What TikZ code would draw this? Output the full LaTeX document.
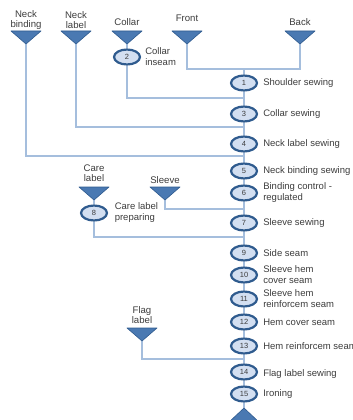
\documentclass[tikz,border=0pt]{standalone}
\usepackage{fontspec}
\setmainfont{Liberation Sans}
\usetikzlibrary{backgrounds,shapes.geometric}
\definecolor{lineblue}{HTML}{A5BEDD}
\definecolor{triblue}{HTML}{4A79B2}
\definecolor{tridark}{HTML}{2E5A8E}
\definecolor{ellfill}{HTML}{D3DFF1}
\definecolor{elldraw}{HTML}{2F5B8E}
\definecolor{txt}{HTML}{3C3C3C}
\newcommand\intri[3]{\path[tri] (#2-15,#3) -- (#2+15,#3) -- (#2,#3+13) -- cycle; \coordinate (#1) at (#2,#3+13);}
\begin{document}
\begin{tikzpicture}[x=1pt,y=-1pt,
  op/.style={ellipse, draw=elldraw, line width=2.2pt, fill=ellfill, minimum width=26pt, minimum height=15pt, inner sep=0pt, font=\fontsize{7.5}{7.5}\selectfont, text=txt},
  lab/.style={anchor=west, inner sep=0pt, align=left, font=\fontsize{9.5}{11}\selectfont, text=txt},
  tlab/.style={anchor=south, inner sep=0pt, align=center, font=\fontsize{9.6}{10}\selectfont, text=txt},
  conn/.style={draw=lineblue, line width=1.3pt},
  tri/.style={fill=triblue, draw=tridark, line width=0.6pt, line join=round}]
\useasboundingbox (0,0) rectangle (353,420);
% inputs
\intri{nb}{26}{31}
\intri{nl}{76}{31}
\intri{co}{127}{31}
\intri{fr}{187}{31}
\intri{bk}{300}{31}
\intri{cl}{94}{187}
\intri{sl}{165}{187}
\intri{fl}{142}{328}
\path[tri] (228,423) -- (260,423) -- (244,408) -- cycle;
\coordinate (out) at (244,408);
\node[tlab] (tnb) at (26,30) {Neck\\binding};
\node[tlab] (tnl) at (76,29) {Neck\\label};
\node[tlab] (tco) at (127,26) {Collar};
\node[tlab] (tfr) at (187,22) {Front};
\node[tlab] (tbk) at (300,26) {Back};
\node[tlab] (tcl) at (94,182) {Care\\label};
\node[tlab] (tsl) at (165,184) {Sleeve};
\node[tlab] (tfl) at (142,324) {Flag\\label};
% operations
\node[op] (e1) at (244,83) {1};
\node[op] (e2) at (127,57) {2};
\node[op] (e3) at (244,114) {3};
\node[op] (e4) at (244,144) {4};
\node[op] (e5) at (244,171) {5};
\node[op] (e6) at (244,193) {6};
\node[op] (e7) at (244,223) {7};
\node[op] (e8) at (94,213) {8};
\node[op] (e9) at (244,253) {9};
\node[op] (e10) at (244,275) {10};
\node[op] (e11) at (244,299) {11};
\node[op] (e12) at (244,322) {12};
\node[op] (e13) at (244,346) {13};
\node[op] (e14) at (244,372) {14};
\node[op] (e15) at (244,394) {15};
\node[lab] (t1) at ([xshift=5pt]e1.east) {Shoulder sewing};
\node[lab] (t2) at ([xshift=4pt]e2.east) {Collar\\inseam};
\node[lab] (t3) at ([xshift=5pt]e3.east) {Collar sewing};
\node[lab] (t4) at ([xshift=5pt]e4.east) {Neck label sewing};
\node[lab] (t5) at ([xshift=5pt]e5.east) {Neck binding sewing};
\node[lab] (t6) at ([xshift=5pt]e6.east) {Binding control -\\regulated};
\node[lab] (t7) at ([xshift=5pt]e7.east) {Sleeve sewing};
\node[lab] (t8) at ([xshift=6.5pt]e8.east) {Care label\\preparing};
\node[lab] (t9) at ([xshift=5pt]e9.east) {Side seam};
\node[lab] (t10) at ([xshift=5pt]e10.east) {Sleeve hem\\cover seam};
\node[lab] (t11) at ([xshift=5pt]e11.east) {Sleeve hem\\reinforcem seam};
\node[lab] (t12) at ([xshift=5pt]e12.east) {Hem cover seam};
\node[lab] (t13) at ([xshift=5pt]e13.east) {Hem reinforcem seam};
\node[lab] (t14) at ([xshift=5pt,yshift=-2pt]e14.east) {Flag label sewing};
\node[lab] (t15) at ([xshift=5pt]e15.east) {Ironing};
% connectors
\coordinate (j0) at (244,69);
\coordinate (j2) at (244,98);
\coordinate (j3) at (244,127);
\coordinate (j4) at (244,156);
\coordinate (j6) at (244,209);
\coordinate (j8) at (244,237);
\coordinate (j13) at (244,359);
\begin{scope}[on background layer]
\draw[conn] (fr) |- (j0) -| (bk);
\draw[conn] (j0) -- (e1) -- (e3) -- (e4) -- (e5) -- (e6) -- (e7) -- (e9) -- (e10) -- (e11) -- (e12) -- (e13) -- (e14) -- (e15) -- (out);
\draw[conn] (co) -- (e2);
\draw[conn] (e2) |- (j2);
\draw[conn] (nl) |- (j3);
\draw[conn] (nb) |- (j4);
\draw[conn] (sl) |- (j6);
\draw[conn] (cl) -- (e8);
\draw[conn] (e8) |- (j8);
\draw[conn] (fl) |- (j13);
\end{scope}
\end{tikzpicture}
\end{document}
